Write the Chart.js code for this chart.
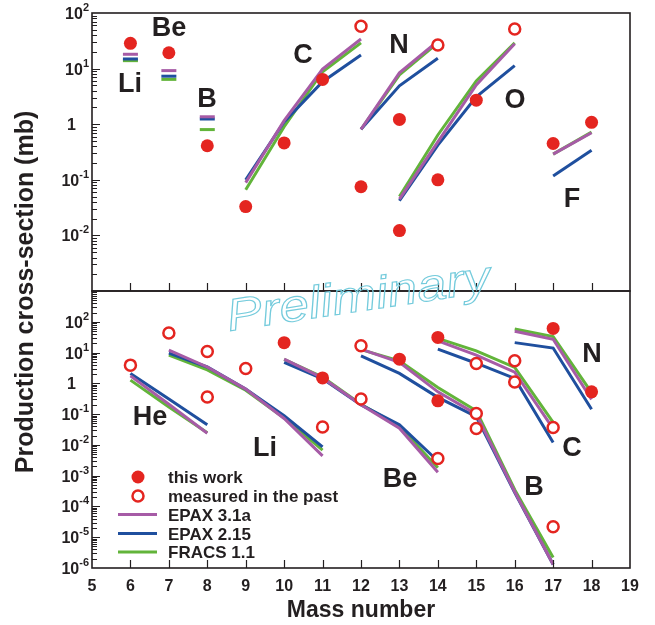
<!DOCTYPE html>
<html>
<head>
<meta charset="utf-8">
<script src="https://cdn.jsdelivr.net/npm/chart.js@4"></script>
<style>
  html, body { margin: 0; padding: 0; background: #fff; }
  #wrap { position: relative; width: 655px; height: 625px; }
  #wrap canvas { position: absolute; left: 0; top: 0; }
</style>
</head>
<body>
<div id="wrap">
  <canvas id="chartTop" width="655" height="625"></canvas>
  <canvas id="chartBottom" width="655" height="625"></canvas>
</div>
<script>
// ---------- axes ----------
const massTicks = [5, 6, 7, 8, 9, 10, 11, 12, 13, 14, 15, 16, 17, 18, 19];
const topExps = [-2, -1, 0, 1, 2];
const bottomExps = [-6, -5, -4, -3, -2, -1, 0, 1, 2];

// ---------- upper panel ----------
// single isotopes drawn as short dashes (Li, Be, B)
const tDashMass = [6, 7, 8];
const tDashEpax31 = [18.1, 9.2, 1.36];
const tDashEpax215 = [14.9, 7.3, 1.24];
const tDashFracs = [13.9, 6.4, 0.80];

const tCMass = [9, 10, 11, 12];
const tCEpax31 = [0.089, 1.16, 9.8, 34];
const tCEpax215 = [0.1, 1.1, 5.8, 17.6];
const tCFracs = [0.066, 0.9, 8.8, 29];

const tNMass = [12, 13, 14];
const tNEpax31 = [0.81, 8.4, 31];
const tNEpax215 = [0.81, 4.9, 15.3];
const tNFracs = [0.81, 7.7, 29];

const tOMass = [13, 14, 15, 16];
const tOEpax31 = [0.045, 0.48, 5.1, 28];
const tOEpax215 = [0.042, 0.42, 3.1, 11.3];
const tOFracs = [0.05, 0.64, 6.0, 29];

const tFMass = [17, 18];
const tFEpax31 = [0.29, 0.70];
const tFEpax215 = [0.117, 0.34];
const tFFracs = [0.29, 0.72];

const tWorkMass = [6, 7, 8, 9, 10, 11, 12, 13, 13, 14, 15, 17, 18];
const tWorkVal = [28.5, 19.3, 0.41, 0.033, 0.46, 6.4, 0.075, 1.22, 0.0122, 0.1, 2.7, 0.45, 1.08];
const tPastMass = [12, 14, 16];
const tPastVal = [58, 26.6, 51.6];

// ---------- lower panel ----------
const bHeMass = [6, 7, 8];
const bHeEpax31 = [1.75, 0.21, 0.024];
const bHeEpax215 = [2.1, 0.31, 0.045];
const bHeFracs = [1.27, 0.17, 0.025];

const bLiMass = [7, 8, 9, 10, 11];
const bLiEpax31 = [12, 3.4, 0.65, 0.072, 0.0044];
const bLiEpax215 = [9.6, 3.4, 0.65, 0.088, 0.0086];
const bLiFracs = [8.3, 2.75, 0.6, 0.075, 0.0068];

const bBeMass = [10, 11, 12, 13, 14];
const bBeEpax31 = [6.1, 1.5, 0.2, 0.035, 0.0013];
const bBeEpax215 = [4.8, 1.4, 0.2, 0.045, 0.003];
const bBeFracs = [6.0, 1.6, 0.21, 0.04, 0.0018];

const bBMass = [12, 13, 14, 15, 16, 17];
const bBEpax31 = [12.9, 4.8, 0.53, 0.1, 3e-4, 1.3e-6];
const bBEpax215 = [7.8, 2.1, 0.35, 0.083, 2.8e-4, 1.3e-6];
const bBFracs = [12.5, 5.4, 0.73, 0.128, 3.5e-4, 2.2e-6];

const bCMass = [14, 15, 16, 17];
const bCEpax31 = [24, 8.3, 2.3, 0.034];
const bCEpax215 = [12.9, 4.5, 1.45, 0.012];
const bCFracs = [29, 11.4, 3.3, 0.054];

const bNMass = [16, 17, 18];
const bNEpax31 = [49, 27, 0.3];
const bNEpax215 = [21, 14, 0.144];
const bNFracs = [58, 33, 0.5];

const bWorkMass = [10, 11, 13, 14, 14, 17, 18];
const bWorkVal = [21, 1.5, 6.1, 31, 0.27, 61, 0.53];
const bPastMass = [6, 7, 8, 8, 9, 11, 12, 12, 14, 15, 15, 15, 16, 16, 17, 17];
const bPastVal = [3.9, 43, 10.9, 0.36, 3.05, 0.038, 16.6, 0.31, 0.0036, 4.4, 0.105, 0.034, 5.4, 1.1, 0.037, 2.2e-5];

// ---------- styles ----------
const ink = "#231f20";
const red = "#e42520";
const purple = "#a65ba6";
const blue = "#1f4f9e";
const green = "#62b43a";
const legendNames = ["this work", "measured in the past", "EPAX 3.1a", "EPAX 2.15", "FRACS 1.1"];

const pts = (mass, vals) => mass.map((m, i) => ({ x: m, y: vals[i] }));

function lineSet(mass, vals, color) {
  return {
    data: pts(mass, vals),
    showLine: true,
    borderColor: color,
    borderWidth: 3,
    pointRadius: 0,
    tension: 0,
    fill: false
  };
}

function dashSet(mass, vals, color) {
  return {
    data: pts(mass, vals),
    showLine: false,
    pointStyle: "line",
    pointRadius: 7.5,
    pointBorderWidth: 3,
    pointBorderColor: color,
    pointBackgroundColor: color
  };
}

function filledSet(mass, vals) {
  return {
    data: pts(mass, vals),
    showLine: false,
    pointRadius: 6.5,
    pointBorderWidth: 0,
    pointBackgroundColor: red,
    pointBorderColor: red
  };
}

function openSet(mass, vals) {
  return {
    data: pts(mass, vals),
    showLine: false,
    pointRadius: 5.5,
    pointBorderWidth: 2.5,
    pointBackgroundColor: "#fff",
    pointBorderColor: red
  };
}

// draw "10^n" with a small raised exponent
function drawPow(ctx, exp, py) {
  ctx.fillStyle = ink;
  ctx.textBaseline = "alphabetic";
  if (exp === 0) {
    ctx.font = "bold 16px 'Liberation Sans', Arial, sans-serif";
    ctx.textAlign = "right";
    ctx.fillText("1", 76, py + 6);
    return;
  }
  const e = exp > 0 ? String(exp) : "-" + Math.abs(exp);
  ctx.font = "bold 11px 'Liberation Sans', Arial, sans-serif";
  const ew = ctx.measureText(e).width;
  ctx.textAlign = "left";
  ctx.fillText(e, 89 - ew, py - 2);
  ctx.font = "bold 16px 'Liberation Sans', Arial, sans-serif";
  ctx.textAlign = "right";
  ctx.fillText("10", 89 - ew, py + 6);
}

function drawTag(ctx, text, x, y) {
  ctx.font = "bold 27px 'Liberation Sans', Arial, sans-serif";
  ctx.fillStyle = ink;
  ctx.textAlign = "center";
  ctx.textBaseline = "alphabetic";
  ctx.fillText(text, x, y);
}

// frame, inward ticks and labels
const framePlugin = {
  id: "frame",
  afterDraw(chart, args, opts) {
    const ctx = chart.ctx;
    const a = chart.chartArea;
    const xs = chart.scales.x;
    const ys = chart.scales.y;
    ctx.save();
    ctx.strokeStyle = ink;
    ctx.lineWidth = 1.2;
    ctx.beginPath();
    const lo = opts.exps[0] - 1;
    const hi = opts.exps[opts.exps.length - 1] + 1;
    for (let k = lo; k <= hi; k++) {
      for (let m = 1; m < 10; m++) {
        const v = m * Math.pow(10, k);
        if (v <= ys.min || v >= ys.max) continue;
        const py = Math.round(ys.getPixelForValue(v)) + 0.5;
        const len = m === 1 ? 8 : 5;
        ctx.moveTo(a.left, py);
        ctx.lineTo(a.left + len, py);
      }
    }
    massTicks.forEach(t => {
      if (t <= xs.min || t >= xs.max) return;
      const px = Math.round(xs.getPixelForValue(t)) + 0.5;
      ctx.moveTo(px, a.bottom);
      ctx.lineTo(px, a.bottom - 8);
    });
    ctx.stroke();

    ctx.lineWidth = 1.6;
    ctx.strokeRect(a.left, a.top, a.right - a.left, a.bottom - a.top);

    opts.exps.forEach(k => drawPow(ctx, k, ys.getPixelForValue(Math.pow(10, k))));
    opts.tags.forEach(t => drawTag(ctx, t[0], t[1], t[2]));

    if (opts.bottom) {
      // x tick labels
      ctx.font = "bold 16px 'Liberation Sans', Arial, sans-serif";
      ctx.fillStyle = ink;
      ctx.textAlign = "center";
      ctx.textBaseline = "alphabetic";
      massTicks.forEach(t => ctx.fillText(String(t), xs.getPixelForValue(t), 591));

      // axis titles
      ctx.font = "bold 23px 'Liberation Sans', Arial, sans-serif";
      ctx.fillText("Mass number", (a.left + a.right) / 2, 617);
      ctx.save();
      ctx.translate(33, 292);
      ctx.rotate(-Math.PI / 2);
      ctx.font = "bold 25px 'Liberation Sans', Arial, sans-serif";
      ctx.fillText("Production cross-section (mb)", 0, 0);
      ctx.restore();

      // legend
      const lx = 138, tx = 168;
      const rows = [477, 496, 514.5, 533.5, 552];
      ctx.fillStyle = red;
      ctx.beginPath();
      ctx.arc(lx, rows[0], 6.5, 0, Math.PI * 2);
      ctx.fill();
      ctx.strokeStyle = red;
      ctx.lineWidth = 2.5;
      ctx.beginPath();
      ctx.arc(lx, rows[1], 5.5, 0, Math.PI * 2);
      ctx.stroke();
      [purple, blue, green].forEach((c, i) => {
        ctx.strokeStyle = c;
        ctx.lineWidth = 3;
        ctx.beginPath();
        ctx.moveTo(118, rows[i + 2]);
        ctx.lineTo(157, rows[i + 2]);
        ctx.stroke();
      });
      ctx.fillStyle = ink;
      ctx.font = "bold 17px 'Liberation Sans', Arial, sans-serif";
      ctx.textAlign = "left";
      legendNames.forEach((n, i) => ctx.fillText(n, tx, rows[i] + 6));

      // watermark
      ctx.save();
      ctx.translate(229, 331);
      ctx.rotate(-8.6 * Math.PI / 180);
      ctx.font = "italic 45px 'Liberation Sans', Arial, sans-serif";
      const w = ctx.measureText("Preliminary").width;
      ctx.scale(266 / w, 1);
      ctx.strokeStyle = "#74cbdc";
      ctx.lineWidth = 1.1;
      ctx.textAlign = "left";
      ctx.strokeText("Preliminary", 0, 0);
      ctx.restore();
    }
    ctx.restore();
  }
};

function makeChart(id, yMin, yMax, padding, datasets, frameOpts) {
  return new Chart(document.getElementById(id), {
    type: "scatter",
    data: { datasets },
    options: {
      responsive: false,
      animation: false,
      devicePixelRatio: 1,
      layout: { padding },
      scales: {
        x: { type: "linear", min: 5, max: 19, display: false },
        y: { type: "logarithmic", min: yMin, max: yMax, display: false }
      },
      plugins: {
        legend: { display: false },
        tooltip: { enabled: false },
        frame: frameOpts
      }
    },
    plugins: [framePlugin]
  });
}

makeChart("chartTop", 1e-3, 1e2, { left: 92, right: 25, top: 13, bottom: 334 }, [
  filledSet(tWorkMass, tWorkVal),
  openSet(tPastMass, tPastVal),
  dashSet(tDashMass, tDashEpax31, purple),
  lineSet(tCMass, tCEpax31, purple),
  lineSet(tNMass, tNEpax31, purple),
  lineSet(tOMass, tOEpax31, purple),
  lineSet(tFMass, tFEpax31, purple),
  dashSet(tDashMass, tDashEpax215, blue),
  lineSet(tCMass, tCEpax215, blue),
  lineSet(tNMass, tNEpax215, blue),
  lineSet(tOMass, tOEpax215, blue),
  lineSet(tFMass, tFEpax215, blue),
  dashSet(tDashMass, tDashFracs, green),
  lineSet(tCMass, tCFracs, green),
  lineSet(tNMass, tNFracs, green),
  lineSet(tOMass, tOFracs, green),
  lineSet(tFMass, tFFracs, green)
], {
  exps: topExps,
  bottom: false,
  tags: [["Li", 130, 92], ["Be", 169, 36], ["B", 207, 107], ["C", 303, 63],
         ["N", 399, 53], ["O", 515, 108], ["F", 572, 207]]
});

makeChart("chartBottom", 1e-6, 1e3, { left: 92, right: 25, top: 291, bottom: 57 }, [
  filledSet(bWorkMass, bWorkVal),
  openSet(bPastMass, bPastVal),
  lineSet(bHeMass, bHeEpax31, purple),
  lineSet(bLiMass, bLiEpax31, purple),
  lineSet(bBeMass, bBeEpax31, purple),
  lineSet(bBMass, bBEpax31, purple),
  lineSet(bCMass, bCEpax31, purple),
  lineSet(bNMass, bNEpax31, purple),
  lineSet(bHeMass, bHeEpax215, blue),
  lineSet(bLiMass, bLiEpax215, blue),
  lineSet(bBeMass, bBeEpax215, blue),
  lineSet(bBMass, bBEpax215, blue),
  lineSet(bCMass, bCEpax215, blue),
  lineSet(bNMass, bNEpax215, blue),
  lineSet(bHeMass, bHeFracs, green),
  lineSet(bLiMass, bLiFracs, green),
  lineSet(bBeMass, bBeFracs, green),
  lineSet(bBMass, bBFracs, green),
  lineSet(bCMass, bCFracs, green),
  lineSet(bNMass, bNFracs, green)
], {
  exps: bottomExps,
  bottom: true,
  tags: [["He", 150, 425], ["Li", 265, 456], ["Be", 400, 487], ["B", 534, 495],
         ["C", 572, 456], ["N", 592, 362]]
});
</script>
</body>
</html>
